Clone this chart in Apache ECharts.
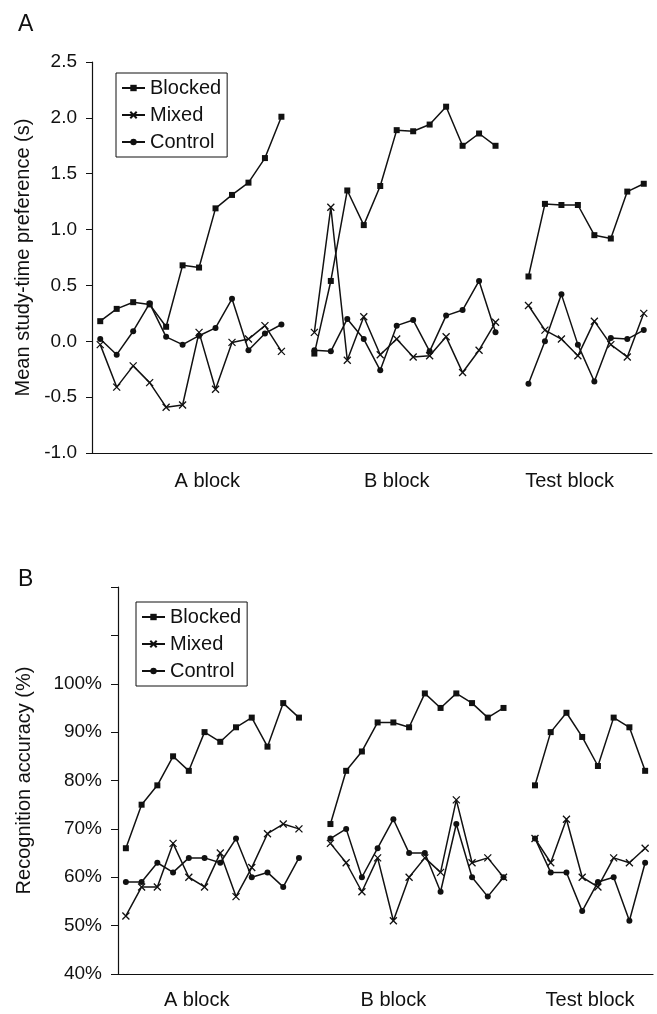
<!DOCTYPE html>
<html lang="en">
<head>
    <meta charset="UTF-8">
    <title>Study-time preference and recognition accuracy</title>
    <script src="https://cdn.jsdelivr.net/npm/echarts@6/dist/echarts.min.js"></script>
    <style>
        html, body { margin: 0; padding: 0; background: #fff; }
        #chart { width: 657px; height: 1014px; }
    </style>
</head>
<body>
    <div id="chart"></div>
    <script>
        // ---- data ----
        // trials per block: A block 12, B block 12, Test block 8 (one empty slot between blocks)
        var seriesNames = ['Blocked', 'Mixed', 'Control'];
        var blockLabels = ['A block', 'B block', 'Test block'];

        // panel A: mean study-time preference (s)
        var prefBlockedA = [0.18, 0.29, 0.35, 0.33, 0.13, 0.68, 0.66, 1.19, 1.31, 1.42, 1.64, 2.01];
        var prefBlockedB = [-0.11, 0.54, 1.35, 1.04, 1.39, 1.89, 1.88, 1.94, 2.10, 1.75, 1.86, 1.75];
        var prefBlockedT = [0.58, 1.23, 1.22, 1.22, 0.95, 0.92, 1.34, 1.41];

        var prefMixedA = [-0.03, -0.41, -0.22, -0.37, -0.59, -0.57, 0.08, -0.43, -0.01, 0.02, 0.14, -0.09];
        var prefMixedB = [0.08, 1.20, -0.17, 0.22, -0.12, 0.02, -0.14, -0.13, 0.04, -0.28, -0.08, 0.17];
        var prefMixedT = [0.32, 0.10, 0.02, -0.13, 0.18, -0.03, -0.14, 0.25];

        var prefControlA = [0.02, -0.12, 0.09, 0.34, 0.04, -0.03, 0.05, 0.12, 0.38, -0.08, 0.07, 0.15];
        var prefControlB = [-0.08, -0.09, 0.20, 0.02, -0.26, 0.14, 0.19, -0.09, 0.23, 0.28, 0.54, 0.08];
        var prefControlT = [-0.38, 0.00, 0.42, -0.03, -0.36, 0.03, 0.02, 0.10];

        // panel B: recognition accuracy (%)
        var accBlockedA = [66, 75, 79, 85, 82, 90, 88, 91, 93, 87, 96, 93];
        var accBlockedB = [71, 82, 86, 92, 92, 91, 98, 95, 98, 96, 93, 95];
        var accBlockedT = [79, 90, 94, 89, 83, 93, 91, 82];

        var accMixedA = [52, 58, 58, 67, 60, 58, 65, 56, 62, 69, 71, 70];
        var accMixedB = [67, 63, 57, 64, 51, 60, 64, 61, 76, 63, 64, 60];
        var accMixedT = [68, 63, 72, 60, 58, 64, 63, 66];

        var accControlA = [59, 59, 63, 61, 64, 64, 63, 68, 60, 61, 58, 64];
        var accControlB = [68, 70, 60, 66, 72, 65, 65, 57, 71, 60, 56, 60];
        var accControlT = [68, 61, 61, 53, 59, 60, 51, 63];

        // where the block names sit on the (0..34) trial scale of each panel
        var labelSpotsA = [7, 18.5, 29];
        var labelSpotsB = [5, 17.5, 30];

        // ---- helpers ----
        function joinBlocks(a, b, t) {
            return a.concat(['-'], b, ['-'], t);
        }
        var nSlots = prefBlockedA.length + 1 + prefBlockedB.length + 1 + prefBlockedT.length;
        var cats = [];
        for (var i = 0; i < nSlots; i++) cats.push(String(i + 1));

        var FONT = '"Liberation Sans", Arial, Helvetica, sans-serif';
        var INK = '#111';
        var xPath = 'path://M0,0L10,10M10,0L0,10';

        var symbols = {
            Blocked: { symbol: 'rect', size: 6 },
            Mixed: { symbol: xPath, size: 7 },
            Control: { symbol: 'circle', size: 6 }
        };

        function lineSeries(name, data, idx) {
            var s = symbols[name];
            return {
                name: name,
                type: 'line',
                xAxisIndex: idx * 2,
                yAxisIndex: idx,
                data: data,
                symbol: s.symbol,
                symbolSize: s.size,
                showSymbol: true,
                connectNulls: false,
                animation: false,
                lineStyle: { color: INK, width: 1.5 },
                itemStyle: { color: INK, borderColor: INK, borderWidth: name === 'Mixed' ? 1.3 : 0 },
                emphasis: { disabled: true }
            };
        }

        function blockLabelFormatter(spots) {
            return function (v) {
                for (var k = 0; k < spots.length; k++) {
                    if (Math.abs(v - spots[k]) < 0.01) return blockLabels[k];
                }
                return '';
            };
        }

        function legendAt(left, top) {
            return {
                data: seriesNames,
                orient: 'vertical',
                left: left, top: top,
                padding: [5, 6, 5, 5],
                itemGap: 7,
                itemWidth: 23, itemHeight: 8,
                borderColor: INK, borderWidth: 1,
                selectedMode: false,
                textStyle: { fontFamily: FONT, fontSize: 20, color: INK }
            };
        }

        var chart = echarts.init(document.getElementById('chart'), null, { renderer: 'canvas' });

        var option = {
            backgroundColor: '#fff',
            animation: false,
            textStyle: { fontFamily: FONT, color: INK },
            title: [
                { text: 'A', left: 13, top: 8, textStyle: { fontFamily: FONT, fontSize: 23, fontWeight: 'normal', color: INK } },
                { text: 'B', left: 13, top: 563, textStyle: { fontFamily: FONT, fontSize: 23, fontWeight: 'normal', color: INK } }
            ],
            legend: [legendAt(116, 73), legendAt(136, 602)],
            grid: [
                { left: 92, top: 62, width: 560, height: 391 },
                { left: 118, top: 587, width: 535, height: 387 }
            ],
            xAxis: [
                {
                    gridIndex: 0, type: 'category', data: cats, boundaryGap: true,
                    axisLine: { onZero: false, lineStyle: { color: INK, width: 1.2 } },
                    axisTick: { show: false }, axisLabel: { show: false }, splitLine: { show: false }
                },
                {
                    gridIndex: 0, type: 'value', min: 0, max: nSlots, interval: 0.5, position: 'bottom',
                    axisLine: { show: false, onZero: false }, axisTick: { show: false }, splitLine: { show: false },
                    axisLabel: { margin: 18, fontSize: 20, color: INK, fontFamily: FONT, formatter: blockLabelFormatter(labelSpotsA) }
                },
                {
                    gridIndex: 1, type: 'category', data: cats, boundaryGap: true,
                    axisLine: { onZero: false, lineStyle: { color: INK, width: 1.2 } },
                    axisTick: { show: false }, axisLabel: { show: false }, splitLine: { show: false }
                },
                {
                    gridIndex: 1, type: 'value', min: 0, max: nSlots, interval: 0.5, position: 'bottom',
                    axisLine: { show: false, onZero: false }, axisTick: { show: false }, splitLine: { show: false },
                    axisLabel: { margin: 16, fontSize: 20, color: INK, fontFamily: FONT, formatter: blockLabelFormatter(labelSpotsB) }
                }
            ],
            yAxis: [
                {
                    gridIndex: 0, type: 'value', min: -1, max: 2.5, interval: 0.5,
                    name: 'Mean study-time preference (s)', nameLocation: 'middle', nameGap: 59,
                    nameTextStyle: { fontFamily: FONT, fontSize: 20, color: INK },
                    axisLine: { show: true, lineStyle: { color: INK, width: 1.2 } },
                    axisTick: { show: true, length: 6, lineStyle: { color: INK } },
                    axisLabel: { margin: 15, fontSize: 19, color: INK, fontFamily: FONT, formatter: function (v) { return v.toFixed(1); } },
                    splitLine: { show: false }
                },
                {
                    gridIndex: 1, type: 'value', min: 40, max: 120, interval: 10,
                    name: 'Recognition accuracy (%)', nameLocation: 'middle', nameGap: 84,
                    nameTextStyle: { fontFamily: FONT, fontSize: 20, color: INK },
                    axisLine: { show: true, lineStyle: { color: INK, width: 1.2 } },
                    axisTick: { show: true, length: 7, lineStyle: { color: INK } },
                    axisLabel: { margin: 16, fontSize: 19, color: INK, fontFamily: FONT, formatter: function (v) { return v <= 100 ? v + '%' : ''; } },
                    splitLine: { show: false }
                }
            ],
            series: [
                lineSeries('Blocked', joinBlocks(prefBlockedA, prefBlockedB, prefBlockedT), 0),
                lineSeries('Mixed', joinBlocks(prefMixedA, prefMixedB, prefMixedT), 0),
                lineSeries('Control', joinBlocks(prefControlA, prefControlB, prefControlT), 0),
                lineSeries('Blocked', joinBlocks(accBlockedA, accBlockedB, accBlockedT), 1),
                lineSeries('Mixed', joinBlocks(accMixedA, accMixedB, accMixedT), 1),
                lineSeries('Control', joinBlocks(accControlA, accControlB, accControlT), 1)
            ]
        };

        chart.setOption(option);
    </script>
</body>
</html>
